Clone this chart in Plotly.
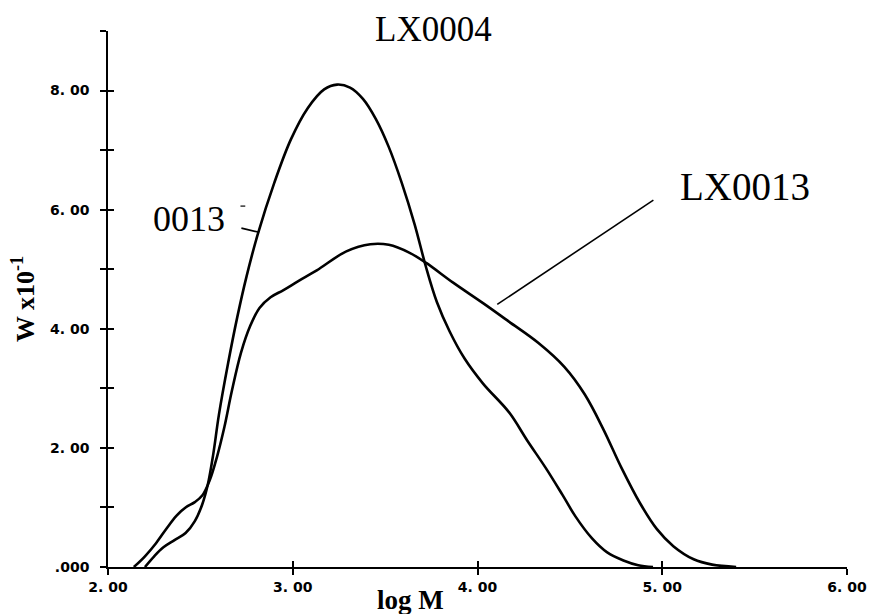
import plotly.graph_objects as go

# ---- data ----
x_lx0004 = [2.20, 2.25, 2.30, 2.36, 2.42, 2.47, 2.51, 2.54, 2.57, 2.60, 2.65, 2.70, 2.75, 2.81,
            2.90, 2.99, 3.08, 3.17, 3.24, 3.31, 3.38, 3.45, 3.52, 3.59, 3.66, 3.72, 3.78, 3.85,
            3.93, 4.03, 4.17, 4.27, 4.37, 4.46, 4.53, 4.62, 4.70, 4.79, 4.87, 4.95]
y_lx0004 = [0.00, 0.18, 0.33, 0.45, 0.57, 0.77, 1.05, 1.38, 1.90, 2.55, 3.42, 4.20, 4.88, 5.58,
            6.45, 7.18, 7.70, 8.02, 8.10, 8.05, 7.86, 7.52, 7.05, 6.45, 5.75, 5.05, 4.45, 3.95,
            3.50, 3.08, 2.60, 2.12, 1.66, 1.21, 0.85, 0.48, 0.25, 0.11, 0.03, 0.00]

x_lx0013 = [2.14, 2.20, 2.26, 2.32, 2.37, 2.42, 2.47, 2.51, 2.55, 2.59, 2.63, 2.67, 2.72, 2.77,
            2.82, 2.88, 2.95, 3.03, 3.13, 3.29, 3.42, 3.52, 3.63, 3.72, 3.87, 4.03, 4.17, 4.33,
            4.47, 4.58, 4.68, 4.78, 4.88, 4.97, 5.06, 5.17, 5.27, 5.40]
y_lx0013 = [0.00, 0.18, 0.40, 0.66, 0.86, 1.00, 1.09, 1.20, 1.45, 1.85, 2.35, 2.95, 3.60, 4.05,
            4.35, 4.53, 4.65, 4.80, 4.98, 5.30, 5.42, 5.41, 5.28, 5.11, 4.77, 4.43, 4.12, 3.76,
            3.36, 2.90, 2.32, 1.66, 1.07, 0.64, 0.35, 0.13, 0.04, 0.00]

x_tickvals = [2, 3, 4, 5, 6]
x_ticktext = ["2. 00", "3. 00", "4. 00", "5. 00", "6. 00"]
y_tickvals = [0, 1, 2, 3, 4, 5, 6, 7, 8, 9]
y_ticktext = [".000", "", "2. 00", "", "4. 00", "", "6. 00", "", "8. 00", ""]

X_RANGE = [2, 6]
Y_RANGE = [0, 9]

SERIF = "Liberation Serif, Times New Roman, serif"
TICKFONT = dict(family="DejaVu Sans, sans-serif", size=14, color="black", weight="bold")

fig = go.Figure()
fig.add_trace(go.Scatter(
    x=x_lx0004, y=y_lx0004, mode="lines", name="LX0004", showlegend=False,
    line=dict(color="black", width=2.6, shape="spline", smoothing=1.0),
))
fig.add_trace(go.Scatter(
    x=x_lx0013, y=y_lx0013, mode="lines", name="LX0013", showlegend=False,
    xaxis="x2", yaxis="y2",
    line=dict(color="black", width=2.6, shape="spline", smoothing=1.0),
))

axis_common = dict(showgrid=False, zeroline=False)

fig.update_layout(
    width=879, height=614,
    margin=dict(l=108, r=23, t=31, b=47),
    paper_bgcolor="white", plot_bgcolor="white",
    xaxis=dict(range=X_RANGE, showline=True, linecolor="black", linewidth=1.6,
               ticks="outside", ticklen=6, tickwidth=1.6, tickcolor="black",
               tickvals=x_tickvals, ticktext=x_ticktext, tickfont=TICKFONT,
               ticklabelstandoff=0, **axis_common),
    xaxis2=dict(range=X_RANGE, overlaying="x", anchor="y", side="bottom",
                showline=False, ticks="inside", ticklen=6, tickwidth=1.6, tickcolor="black",
                tickvals=x_tickvals, showticklabels=False, **axis_common),
    yaxis=dict(range=Y_RANGE, showline=True, linecolor="black", linewidth=1.6,
               ticks="outside", ticklen=6, tickwidth=1.6, tickcolor="black",
               tickvals=y_tickvals, ticktext=y_ticktext, tickfont=TICKFONT,
               ticklabelstandoff=8, **axis_common),
    yaxis2=dict(range=Y_RANGE, overlaying="y", anchor="x", side="left",
                showline=False, ticks="inside", ticklen=6, tickwidth=1.6, tickcolor="black",
                tickvals=y_tickvals, showticklabels=False, **axis_common),
    showlegend=False,
)

annotations = [
    dict(text="LX0004", xref="paper", yref="paper", x=0.44, y=1.003, showarrow=False,
         xanchor="center", yanchor="middle", font=dict(family=SERIF, size=35, color="black")),
    dict(text="LX0013", xref="x", yref="y", x=5.45, y=6.39, showarrow=False,
         xanchor="center", yanchor="middle", font=dict(family=SERIF, size=39, color="black")),
    dict(text="0013", xref="x", yref="y", x=2.44, y=5.84, showarrow=False,
         xanchor="center", yanchor="middle", font=dict(family=SERIF, size=36, color="black")),
    dict(text="<b>log M</b>", xref="paper", yref="paper", x=0.41, y=-0.062, showarrow=False,
         xanchor="center", yanchor="middle", font=dict(family=SERIF, size=27, color="black")),
    dict(text="<b>W x10<sup>-1</sup></b>", xref="paper", yref="paper", x=-0.115, y=0.50,
         showarrow=False, textangle=-90, xanchor="center", yanchor="middle",
         font=dict(family=SERIF, size=26, color="black")),
]
fig.update_layout(annotations=annotations)

shapes = [
    dict(type="line", xref="x", yref="y", x0=4.107, y0=4.41, x1=4.952, y1=6.16,
         line=dict(color="black", width=1.6)),
    dict(type="line", xref="x", yref="y", x0=2.722, y0=5.69, x1=2.818, y1=5.62,
         line=dict(color="black", width=1.6)),
    dict(type="line", xref="x", yref="y", x0=2.717, y0=6.06, x1=2.743, y1=6.06,
         line=dict(color="black", width=1.2)),
]
fig.update_layout(shapes=shapes)

fig.write_html("out.html")
